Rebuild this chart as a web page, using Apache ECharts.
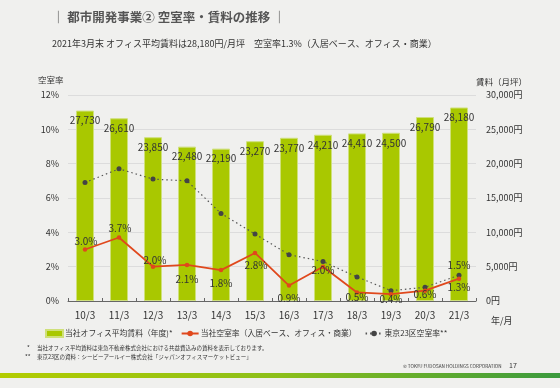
<!DOCTYPE html>
<html><head><meta charset="utf-8">
<script src="https://cdn.jsdelivr.net/npm/echarts@6/dist/echarts.min.js"></script>
<style>html,body{margin:0;padding:0;background:#f0f0ee;}#c{width:560px;height:388px;}</style>
</head><body><div id="c"></div>
<script>
const categories = ['10/3','11/3','12/3','13/3','14/3','15/3','16/3','17/3','18/3','19/3','20/3','21/3'];
const rentValues = [27730,26610,23850,22480,22190,23270,23770,24210,24410,24500,26790,28180];
const companyVacancy = [3.0,3.7,2.0,2.1,1.8,2.8,0.9,2.0,0.5,0.4,0.6,1.3];
const tokyoVacancy = [6.9,7.7,7.1,7.0,5.1,3.9,2.7,2.3,1.4,0.6,0.8,1.5];
const leftTicks = [0,2,4,6,8,10,12];
const rightTicks = [0,5000,10000,15000,20000,25000,30000];
const companyLabelOffsets = [[1,-8],[1,-9.5],[2,-6],[0,14],[0,13],[1,12.7],[0,12.6],[0,4],[0,5],[0,5],[0,3.3],[0,9]];

const FONT = '"Noto Sans CJK JP", "Noto Sans", sans-serif';
function fmt(n){return String(n).replace(/\B(?=(\d{3})+(?!\d))/g, ',');}

const chart = echarts.init(document.getElementById('c'), null, {renderer:'canvas'});
chart.setOption({
  backgroundColor:'#f0f0ee',
  textStyle:{fontFamily:FONT},
  animation:false,
  grid:{left:68,right:84,top:95,bottom:87},
  legend:{
    left:40, top:324, itemWidth:17, itemHeight:7, itemGap:8,
    textStyle:{fontSize:7.8, color:'#333', fontFamily:FONT, padding:[0,0,0,-3]},
    data:[
      {name:'当社オフィス平均賃料（年度)*', icon:'rect'},
      {name:'当社空室率（入居ベース、オフィス・商業）'},
      {name:'東京23区空室率**'}
    ]
  },
  xAxis:{
    type:'category', data:categories,
    axisLine:{lineStyle:{color:'#666', width:1}},
    axisTick:{show:true, inside:true, length:3, lineStyle:{color:'#666'}},
    axisLabel:{color:'#333', fontSize:10, margin:9, fontFamily:FONT}
  },
  yAxis:[
    {type:'value', min:0, max:12, interval:2,
     axisLine:{show:false}, axisTick:{show:false},
     axisLabel:{color:'#333', fontSize:9, formatter:v=>v+'%', margin:9, fontFamily:FONT},
     splitLine:{lineStyle:{color:'#dcdcdc', width:1}}},
    {type:'value', min:0, max:30000, interval:5000,
     axisLine:{show:false}, axisTick:{show:false},
     axisLabel:{color:'#333', fontSize:9, formatter:v=>fmt(v)+'円', margin:10, fontFamily:FONT},
     splitLine:{show:false}}
  ],
  series:[
    {name:'当社オフィス平均賃料（年度)*', type:'bar', yAxisIndex:1, data:rentValues, barWidth:18,
     itemStyle:{color:'#a9c800', borderColor:'#cfe07a', borderWidth:1},
     label:{show:true, position:'insideTop', distance:5, color:'#333', fontSize:10, formatter:p=>fmt(p.value), fontFamily:FONT},
     z:1},
    {name:'当社空室率（入居ベース、オフィス・商業）', type:'line', yAxisIndex:0,
     data:companyVacancy.map((v,i)=>({value:v, label:{offset:companyLabelOffsets[i]}})),
     symbol:'circle', symbolSize:4.5,
     lineStyle:{color:'#e0481c', width:1.8}, itemStyle:{color:'#e0481c'},
     label:{show:true, position:'inside', color:'#333', fontSize:10, formatter:p=>p.value.toFixed(1)+'%', fontFamily:FONT},
     z:3},
    {name:'東京23区空室率**', type:'line', yAxisIndex:0,
     data:tokyoVacancy.map((v,i)=>({value:v, label:{show:i===tokyoVacancy.length-1, offset:[0,-10]}})),
     symbol:'circle', symbolSize:5,
     lineStyle:{color:'#555', width:1.2, type:[1.5,3]}, itemStyle:{color:'#444'},
     label:{position:'inside', color:'#333', fontSize:10, formatter:p=>p.value.toFixed(1)+'%', fontFamily:FONT},
     z:2}
  ],
  graphic:[
    {type:'text', left:52, top:11, style:{text:'｜ 都市開発事業② 空室率・賃料の推移 ｜', font:'bold 12.5px '+FONT, fill:'#555'}},
    {type:'text', left:52, top:39, style:{text:'2021年3月末 オフィス平均賃料は28,180円/月坪　空室率1.3%（入居ベース、オフィス・商業）', font:'9px '+FONT, fill:'#333'}},
    {type:'text', left:38, top:76, style:{text:'空室率', font:'8.5px '+FONT, fill:'#333'}},
    {type:'text', left:476, top:78, style:{text:'賃料（月坪）', font:'8.5px '+FONT, fill:'#333'}},
    {type:'text', left:491, top:316, style:{text:'年/月', font:'9px '+FONT, fill:'#333'}},
    {type:'text', left:27, top:345, style:{text:'*', font:'6px '+FONT, fill:'#333'}},
    {type:'text', left:37, top:345, style:{text:'当社オフィス平均賃料は東急不動産株式会社における共益費込みの賃料を表示しております。', font:'5.5px '+FONT, fill:'#333'}},
    {type:'text', left:25, top:354, style:{text:'**', font:'6px '+FONT, fill:'#333'}},
    {type:'text', left:37, top:354, style:{text:'東京23区の資料：シービーアールイー株式会社「ジャパンオフィスマーケットビュー」', font:'5.5px '+FONT, fill:'#333'}},
    {type:'text', left:403, top:364, style:{text:'© TOKYU FUDOSAN HOLDINGS CORPORATION', font:'4.6px '+FONT, fill:'#333'}},
    {type:'text', left:509, top:362, style:{text:'17', font:'7px '+FONT, fill:'#333'}},
    {type:'rect', left:0, top:373, shape:{width:560, height:5},
     style:{fill:new echarts.graphic.LinearGradient(0,0,1,0,[{offset:0,color:'#b3cc00'},{offset:0.5,color:'#8cbf1a'},{offset:1,color:'#3b9a3e'}])}}
  ]
});
</script></body></html>
